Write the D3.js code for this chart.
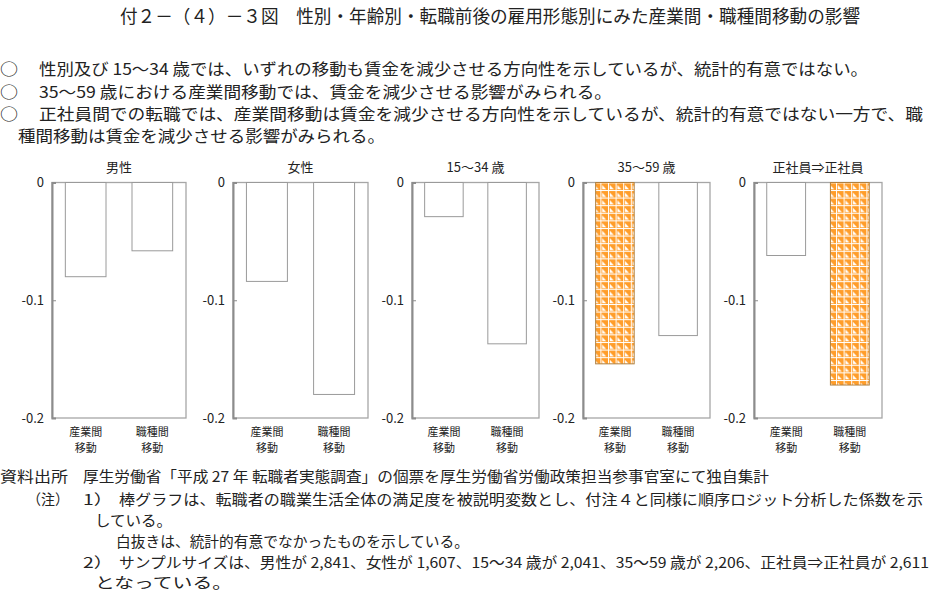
<!DOCTYPE html>
<html><head><meta charset="utf-8">
<script src="https://cdn.jsdelivr.net/npm/d3@7"></script>
<style>
html,body{margin:0;padding:0;background:#fff;}
svg{display:block;}
text{font-family:"Noto Sans CJK JP","Noto Sans",sans-serif;fill:#222;}
</style></head>
<body>
<svg id="c" width="931" height="597"></svg>
<script>
// ---- data ----
const panelTitles = ["男性", "女性", "15～34 歳", "35～59 歳", "正社員⇒正社員"];
const categories = ["産業間\n移動", "職種間\n移動"];
const industryMove = [-0.080, -0.084, -0.029, -0.154, -0.062];
const occupationMove = [-0.058, -0.180, -0.137, -0.130, -0.172];
const industrySignificant = [false, false, false, true, false];
const occupationSignificant = [false, false, false, false, true];
const yTicks = [0, -0.1, -0.2];
const yTickLabels = ["0", "-0.1", "-0.2"];

// ---- layout ----
const panelLeft = [52, 233, 412, 583, 754];
const panelWidth = [134, 135, 127, 127, 128];
const plotTop = 182.5, plotBottom = 418;

const svg = d3.select("#c");

// pattern for significant bars
const defs = svg.append("defs");
const t = 7.6;
const pat = defs.append("pattern").attr("id", "sig").attr("patternUnits", "userSpaceOnUse")
  .attr("width", t).attr("height", t);
pat.append("rect").attr("width", t).attr("height", t).attr("fill", "#ff9d2a");
pat.append("rect").attr("x", 0).attr("y", 0).attr("width", 1).attr("height", t).attr("fill", "#fff");
pat.append("rect").attr("x", 0).attr("y", 0).attr("width", t).attr("height", 1).attr("fill", "#fff");
pat.append("path").attr("d", `M1.8,2.6 L1.8,${t-0.8} L${t-1.8},${t-0.8} Z`).attr("fill", "#fff");

// ---- text blocks ----
function line(x, y, str, size, len, anchor) {
  const tx = svg.append("text").attr("x", x).attr("y", y).attr("dominant-baseline", "central")
    .style("font-size", size + "px").text(str);
  if (len) tx.attr("textLength", len).attr("lengthAdjust", "spacingAndGlyphs");
  if (anchor) tx.attr("text-anchor", anchor);
  return tx;
}

line(120, 15, "付２－（４）－３図　性別・年齢別・転職前後の雇用形態別にみた産業間・職種間移動の影響", 18, 740);

line(0, 68, "○", 16, 18);
line(39, 68, "性別及び 15～34 歳では、いずれの移動も賃金を減少させる方向性を示しているが、統計的有意ではない。", 16, 829);
line(0, 91, "○", 16, 18);
line(39, 91, "35～59 歳における産業間移動では、賃金を減少させる影響がみられる。", 16, 573);
line(0, 113, "○", 16, 18);
line(39, 113, "正社員間での転職では、産業間移動は賃金を減少させる方向性を示しているが、統計的有意ではない一方で、職", 16, 884);
line(18, 135, "種間移動は賃金を減少させる影響がみられる。", 16, 367);

const fs = 14.5;
line(0, 475, "資料出所", fs, 68);
line(83, 475, "厚生労働省「平成 27 年 転職者実態調査」の個票を厚生労働省労働政策担当参事官室にて独自集計", fs, 686);
line(27, 498, "（注）", fs, 42);
line(83, 498, "1）", fs, 30);
line(119, 498, "棒グラフは、転職者の職業生活全体の満足度を被説明変数とし、付注４と同様に順序ロジット分析した係数を示", fs, 804);
line(95, 519, "している。", fs, 77);
line(116, 540, "白抜きは、統計的有意でなかったものを示している。", fs, 353);
line(83, 561, "2）", fs, 30);
line(119, 561, "サンプルサイズは、男性が 2,841、女性が 1,607、15～34 歳が 2,041、35～59 歳が 2,206、正社員⇒正社員が 2,611", fs, 810);
line(95, 581, "となっている。", fs, 137);

// ---- panels ----
const y = d3.scaleLinear().domain([-0.2, 0]).range([plotBottom, plotTop]);

panelTitles.forEach((title, i) => {
  const x0 = panelLeft[i], w = panelWidth[i];
  const g = svg.append("g");
  const x = d3.scaleBand().domain(categories).range([x0, x0 + w]).paddingInner(0.39).paddingOuter(0.2);

  // frame
  g.append("rect").attr("x", x0).attr("y", plotTop).attr("width", w).attr("height", plotBottom - plotTop)
    .attr("fill", "none").attr("stroke", "#a6a6a6").attr("stroke-width", 1.3);

  const vals = [industryMove[i], occupationMove[i]];
  const sig = [industrySignificant[i], occupationSignificant[i]];
  g.selectAll(".bar").data(categories).join("rect")
    .attr("x", d => x(d))
    .attr("width", x.bandwidth())
    .attr("y", y(0))
    .attr("height", (d, j) => y(vals[j]) - y(0))
    .attr("fill", (d, j) => sig[j] ? "url(#sig)" : "#fff")
    .attr("stroke", (d, j) => sig[j] ? "#b08040" : "#9a9a9a")
    .attr("stroke-width", 1);

  // y axis
  const ax = d3.axisLeft(y).tickValues(yTicks).tickSize(-4).tickPadding(8)
    .tickFormat((d, k) => yTickLabels[k]);
  const ag = g.append("g").attr("transform", `translate(${x0},0)`).call(ax);
  ag.select(".domain").attr("stroke", "#8c8c8c").attr("stroke-width", 2);
  ag.selectAll(".tick line").attr("stroke", "#8c8c8c");
  ag.selectAll(".tick text").style("font-size", "13px").style("font-family", '"Noto Sans CJK JP",sans-serif').attr("fill", "#222");

  // category labels (two lines)
  categories.forEach(c => {
    const cx = x(c) + x.bandwidth() / 2;
    c.split("\n").forEach((p, k) => {
      g.append("text").attr("x", cx).attr("y", 431 + k * 16)
        .attr("text-anchor", "middle").attr("dominant-baseline", "central")
        .style("font-size", "11px").text(p);
    });
  });

  // panel title
  g.append("text").attr("x", x0 + w / 2).attr("y", 166).attr("text-anchor", "middle")
    .attr("dominant-baseline", "central").style("font-size", "13px").text(title);
});
</script>
</body></html>
